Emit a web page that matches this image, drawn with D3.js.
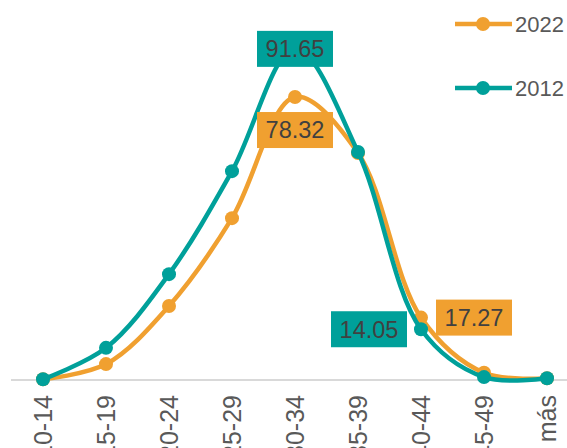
<!DOCTYPE html>
<html>
<head>
<meta charset="utf-8">
<script src="https://cdn.jsdelivr.net/npm/d3@7"></script>
<style>
  html, body { margin: 0; padding: 0; background: #fff; overflow: hidden; }
  text { font-family: "Liberation Sans", Arial, sans-serif; }
</style>
</head>
<body>
<div id="chart"></div>
<script>
const ageGroups = ["10-14", "15-19", "20-24", "25-29", "30-34", "35-39", "40-44", "45-49", "50 y más"];
const values2022 = [0.2, 4.4, 20.5, 44.8, 78.32, 62.8, 17.27, 2.0, 0.5];
const values2012 = [0.2, 8.9, 29.3, 57.8, 91.65, 63.1, 14.05, 0.8, 0.5];

const seriesNames = ["2022", "2012"];
const colors = {"2022": "#F0A030", "2012": "#00A09A"};

const width = 567, height = 448;

const svg = d3.select("#chart").append("svg")
    .attr("width", width)
    .attr("height", height);

const x = d3.scalePoint()
    .domain(ageGroups)
    .range([43, 547]);

const y = d3.scaleLinear()
    .domain([0, 100])
    .range([380, 18.7]);

// baseline
svg.append("line")
    .attr("x1", 11).attr("x2", width)
    .attr("y1", y(0)).attr("y2", y(0))
    .attr("stroke", "#d9d9d9")
    .attr("stroke-width", 2);

// x axis labels
svg.append("g").selectAll("text")
    .data(ageGroups).enter().append("text")
    .attr("transform", d => `translate(${x(d)},395) rotate(-90)`)
    .attr("text-anchor", "end")
    .attr("dy", "0.35em")
    .style("font-size", "25px")
    .attr("fill", "#595959")
    .text(d => d);

const series = [
  {name: "2022", values: values2022},
  {name: "2012", values: values2012}
];

const line = d3.line()
    .x((d, i) => x(ageGroups[i]))
    .y(d => y(d))
    .curve(d3.curveCatmullRom.alpha(0.5));

series.forEach(s => {
  const g = svg.append("g");
  g.append("path")
      .datum(s.values)
      .attr("fill", "none")
      .attr("stroke", colors[s.name])
      .attr("stroke-width", 4.5)
      .attr("d", line);
  g.selectAll("circle")
      .data(s.values).enter().append("circle")
      .attr("cx", (d, i) => x(ageGroups[i]))
      .attr("cy", d => y(d))
      .attr("r", 7)
      .attr("fill", colors[s.name]);
});

// data labels: [series, category index, dx, dy]
const labelSpots = [
  {name: "2012", values: values2012, i: 4, dx: 0, dy: 0},
  {name: "2022", values: values2022, i: 4, dx: 0, dy: 33},
  {name: "2012", values: values2012, i: 6, dx: -52, dy: 0},
  {name: "2022", values: values2022, i: 6, dx: 53, dy: 0}
];

labelSpots.forEach(l => {
  const cx = x(ageGroups[l.i]) + l.dx;
  const cy = y(l.values[l.i]) + l.dy;
  svg.append("rect")
      .attr("x", cx - 38).attr("y", cy - 18)
      .attr("width", 76).attr("height", 36)
      .attr("fill", colors[l.name]);
  svg.append("text")
      .attr("x", cx).attr("y", cy)
      .attr("text-anchor", "middle")
      .attr("dy", "0.36em")
      .style("font-size", "23.5px")
      .attr("fill", "#404040")
      .text(l.values[l.i].toFixed(2));
});

// legend
const legend = svg.append("g").selectAll("g")
    .data(seriesNames).enter().append("g")
    .attr("transform", (d, i) => `translate(455,${24 + i * 64})`);

legend.append("line")
    .attr("x1", 0).attr("x2", 57)
    .attr("stroke", d => colors[d])
    .attr("stroke-width", 4.5);

legend.append("circle")
    .attr("cx", 28).attr("r", 7)
    .attr("fill", d => colors[d]);

legend.append("text")
    .attr("x", 60)
    .attr("dy", "0.36em")
    .style("font-size", "22px")
    .attr("fill", "#595959")
    .text(d => d);
</script>
</body>
</html>
